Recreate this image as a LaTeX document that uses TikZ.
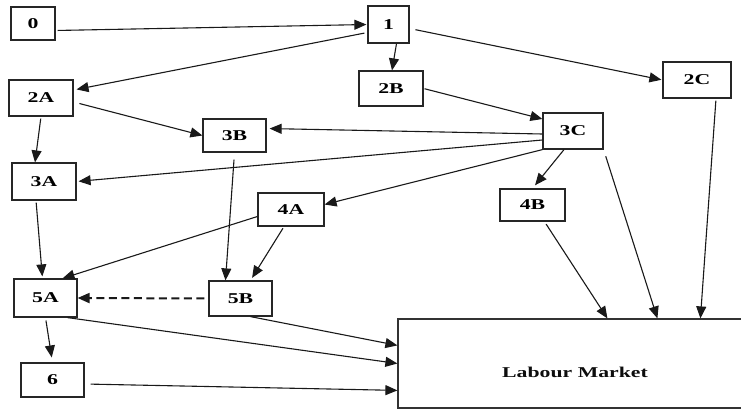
\documentclass[tikz,border=0pt]{standalone}
\usepackage{fontspec}
\setmainfont{Liberation Serif}[FakeStretch=1.45]
\usetikzlibrary{arrows.meta}
\tikzset{
  stage/.style={draw=black!85, line width=1.2pt, fill=white, inner sep=0pt,
    font=\fontsize{15}{18}\selectfont\bfseries},
  flow/.style={line width=1.1pt, draw=black!90, -{Triangle[length=12pt,width=10pt]}},
  weak/.style={flow, line width=2pt, dash pattern=on 8pt off 4.5pt,
    -{Triangle[length=12pt,width=10pt]}}
}
\begin{document}
\begin{tikzpicture}[x=1pt,y=-1pt]
\path[use as bounding box, clip] (0,0) rectangle (741,409);
\fill[white] (0,0) rectangle (741,409);

% stages
\node[stage, minimum width=44pt, minimum height=33pt] (n0)  at (33,23.5)  {0};
\node[stage, minimum width=41pt, minimum height=37pt] (n1)  at (388.5,24.5) {1};
\node[stage, minimum width=64pt, minimum height=36pt] (n2A) at (41,98)    {2A};
\node[stage, minimum width=64pt, minimum height=35pt] (n2B) at (391,88.5) {2B};
\node[stage, minimum width=68pt, minimum height=36pt] (n2C) at (697,80)   {2C};
\node[stage, minimum width=64pt, minimum height=37pt] (n3A) at (44,181.5) {3A};
\node[stage, minimum width=63pt, minimum height=33pt] (n3B) at (234.5,135.5) {3B};
\node[stage, minimum width=60pt, minimum height=36pt] (n3C) at (573,131)  {3C};
\node[stage, minimum width=66pt, minimum height=33pt] (n4A) at (291,209.5) {4A};
\node[stage, minimum width=65pt, minimum height=32pt] (n4B) at (532.5,205) {4B};
\node[stage, minimum width=63pt, minimum height=38pt] (n5A) at (45.5,298)  {5A};
\node[stage, minimum width=63pt, minimum height=35pt] (n5B) at (240.5,298.5) {5B};
\node[stage, minimum width=63pt, minimum height=34pt] (n6)  at (52.5,380)  {6};

% labour market block, running past the right edge
\node[draw=black!80, line width=1.2pt, minimum width=354pt, minimum height=89pt, inner sep=0pt] (lm) at (575,363.5) {};
\node[font=\fontsize{15}{18}\selectfont\bfseries, text=black!95, inner sep=0pt] (lmtext) at (575,372) {Labour Market};

% flows
\draw[flow, shorten <=2pt, shorten >=1pt] ([yshift=-7pt]n0.east) -- (n1.west);
\draw[flow, shorten <=3pt, shorten >=3pt] ([yshift=-8pt]n1.west) -- ([yshift=8pt]n2A.east);
\draw[flow] ([xshift=8pt]n1.south) -- ([xshift=1pt]n2B.north);
\draw[flow, shorten <=6pt, shorten >=1pt] ([yshift=-4pt]n1.east) -- (n2C.west);
\draw[flow, shorten <=6pt] ([yshift=-4pt]n2A.east) -- (n3B.west);
\draw[flow, shorten <=2pt] (n2A.south) -- ([xshift=-9pt]n3A.north);
\draw[flow, shorten <=1pt] (n2B.east) -- ([yshift=12pt]n3C.west);
\draw[flow, shorten >=3pt] ([yshift=-3pt]n3C.west) -- ([yshift=7pt]n3B.east);
\draw[flow, shorten >=2pt] ([yshift=-9pt]n3C.west) -- (n3A.east);
\draw[flow] (n3C.south west) -- ([yshift=5pt]n4A.east);
\draw[flow, shorten >=4pt] ([xshift=-9pt]n3C.south) -- (n4B.north);
\draw[flow, shorten <=7pt] (n3C.south east) -- ([xshift=260pt]lm.north west);
\draw[flow, shorten <=2pt] ([xshift=19pt]n2C.south) -- ([xshift=303pt]lm.north west);
\draw[flow, shorten <=3pt] ([xshift=12pt]n4B.south) -- ([xshift=210pt]lm.north west);
\draw[flow, shorten <=7pt] (n3B.south) -- ([xshift=-15pt]n5B.north);
\draw[flow] ([yshift=-7pt]n4A.west) -- ([xshift=17pt]n5A.north);
\draw[flow, shorten <=2pt, shorten >=3pt] ([xshift=-7pt]n4A.south) -- ([xshift=10pt]n5B.north);
\draw[flow, shorten <=2pt, shorten >=2pt] ([xshift=-8pt]n3A.south) -- ([xshift=-3pt]n5A.north);
\draw[weak, shorten <=4pt] (n5B.west) -- (n5A.east);
\draw[flow, shorten <=3pt, shorten >=5pt] (n5A.south) -- (n6.north);
\draw[flow] ([xshift=22pt]n5A.south) -- (lm.west);
\draw[flow] ([xshift=10pt]n5B.south) -- ([yshift=-27pt]lm.north west);
\draw[flow, shorten <=6pt] ([yshift=-4pt]n6.east) -- ([yshift=-72pt]lm.north west);
\end{tikzpicture}
\end{document}
